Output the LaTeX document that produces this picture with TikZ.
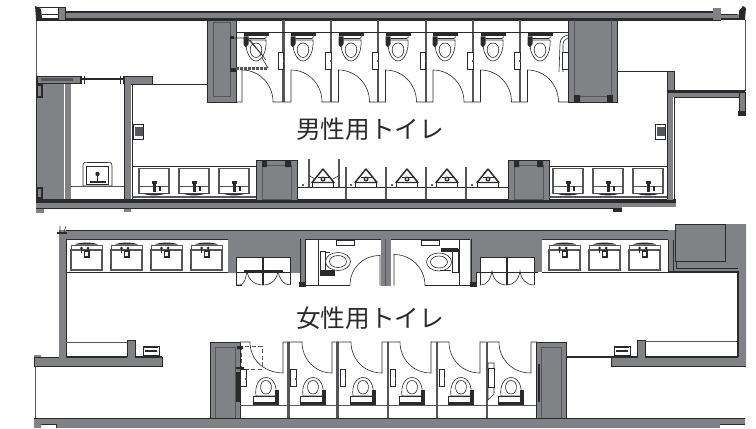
\documentclass[tikz,border=0pt]{standalone}
\usepackage{fontspec}
\newfontfamily\cjk{Noto Sans CJK JP}
\definecolor{wallgray}{HTML}{808285}
\definecolor{ink}{HTML}{2B2A2B}
\definecolor{softink}{HTML}{55565A}
\tikzset{
  wall/.style={fill=wallgray,draw=ink,line width=0.7pt},
  plainwall/.style={fill=wallgray,draw=none},
  fine/.style={draw=ink,line width=0.45pt},
  finer/.style={draw=softink,line width=0.35pt},
  heavy/.style={draw=ink,line width=1pt},
  divider/.style={draw=softink,line width=1.7pt},
  title/.style={font=\cjk\fontsize{18.5}{20}\selectfont,text=ink,inner sep=0pt,anchor=center},
  pics/wctop/.style={code={
    \draw[fine,fill=white] (-10,3) .. controls (-11,14) and (-6,24) .. (0,24) .. controls (6,24) and (11,14) .. (10,3) -- cycle;
    \draw[fine] (0,6) .. controls (-8.5,6) and (-7,20.5) .. (0,20.5) .. controls (7,20.5) and (8.5,6) .. (0,6) -- cycle;
    \fill[ink] (-12.5,-3.5) rectangle (12.5,-0.5);
    \fill[ink] (-12.5,-0.5) -- (-7.5,-0.5) -- (-7.5,7) -- (-10,10.5) -- (-12.5,8) -- cycle;
    \draw[fine] (-7.5,1.5) -- (9,1.5) -- (11,-0.5);
  }},
  pics/wcbottom/.style={code={
    \draw[fine,fill=white] (-10,8) .. controls (-11.5,-2) and (-7,-10.5) .. (0,-10.5) .. controls (7,-10.5) and (11.5,-2) .. (10,8) -- cycle;
    \draw[fine] (0,-7.5) .. controls (-7.5,-7.5) and (-7,6) .. (0,6) .. controls (7,6) and (7.5,-7.5) .. (0,-7.5) -- cycle;
    \draw[fine,fill=white] (-12.5,8) rectangle (9,14);
    \fill[ink] (-13,14) rectangle (13,17);
    \fill[ink] (8.5,2) rectangle (13,15);
  }},
  pics/basinfloor/.style={code={
    \draw[draw=softink,line width=0.8pt,fill=white] (0,0) rectangle (30,25);
    \draw[finer] (0,18) -- (30,18);
    \fill[ink] (14,12.5) rectangle (17,23);
    \fill[ink] (13,12) rectangle (18,15);
    \fill[ink] (19.5,17) rectangle (22,22.5);
    \fill[ink] (4,25) .. controls (8,27.5) and (22,27.5) .. (26,25) -- cycle;
  }},
  pics/basinwall/.style={code={
    \draw[finer] (0,-5) -- (31,-5);
    \draw[draw=softink,line width=0.8pt,fill=white] (0,0) rectangle (31,20);
    \draw[finer] (0,-5) -- (0,0) (31,-5) -- (31,0);
    \fill[ink] (4,-5.5) .. controls (8,-8) and (23,-8) .. (27,-5.5) -- cycle;
    \fill[ink] (10.5,-2) circle (1.5) (17,-2) circle (1.5);
    \draw[ink,line width=0.7pt] (10.5,-2) -- (10.5,3) (17,-2) -- (17,3);
    \draw[draw=ink,line width=0.8pt,fill=white] (13.5,1) rectangle (18,7);
  }},
  pics/urinal/.style={code={
    \draw[line width=1.1pt,draw=ink,fill=white,line join=round] (0,-12) -- (-11,1.5) -- (11,1.5) -- cycle;
    \draw[fine] (-5.5,-3.5) -- (5.5,-3.5);
    \fill[ink] (0,-2) circle (2.5);
    \fill[white] (0,-2) circle (1.1);
    \draw[fine] (-10.5,1.5) -- (-10.5,6) (10.5,1.5) -- (10.5,6);
  }},
  pics/holder/.style={code={
    \draw[fine,fill=white] (0,0) rectangle (5.5,17);
    \fill[softink] (4.5,8) rectangle (6,10);
  }},
  pics/dispenser/.style={code={
    \draw[fine,fill=white] (0,0) rectangle (10,15);
    \fill[softink] (1,2) rectangle (9,11);
  }},
  pics/drier/.style={code={
    \draw[fine,fill=white] (0,0) rectangle (16,11);
    \fill[ink] (1,0) rectangle (15,2);
    \fill[ink] (2,4) rectangle (14,6);
    \fill[ink] (0,9) rectangle (16,11);
  }}
}
\begin{document}
\begin{tikzpicture}[x=0.75pt,y=-0.75pt]
\useasboundingbox (0,0) rectangle (756,428);
% ===== upper plan: men =====
\draw[finer] (36,20) -- (36,76) (745,20) -- (745,91);
\path[plainwall] (65,12) rectangle (721,20);
\draw[heavy] (65,12) -- (713,12);
\fill[ink] (36,18.5) rectangle (721,21);
\path[wall] (58,7) -- (65,7) -- (65,20) -- (58,20) -- cycle;
\draw[fine] (36,7) -- (58,7) (42,14) -- (58,14);
\fill[ink] (35,6) -- (41,9) -- (42,18) -- (36,18) -- cycle;
\path[plainwall] (713,8) rectangle (721,20);
\path[plainwall] (721,14) rectangle (745,20);
\draw[fine] (721,14) -- (737,14);
\fill[ink] (721,18.5) rectangle (745,20.5);
\fill[ink] (743,6) -- (746,8) -- (745,19) -- (739,19) -- (739,11) -- cycle;
% left column
\path[plainwall] (37,83) rectangle (64,200);
\path[plainwall] (65,83) rectangle (71,200);
\draw[fine] (36,76) -- (36,212);
\path[wall] (37,76) rectangle (80,83);
\fill[softink] (41,78) rectangle (73,81);
\fill[ink] (36,84) rectangle (43,98);
\fill[wallgray] (38,86) rectangle (41,96);
\fill[ink] (36,187) rectangle (43,199);
\fill[wallgray] (38,189) rectangle (41,197);
\draw[ink,line width=1.2pt] (80,79) -- (124,79);
\draw[fine] (81,76) -- (81,84) (84,76) -- (84,84) (120,76) -- (120,84) (123,76) -- (123,84);
\path[wall] (124,76) rectangle (152,84);
\path[plainwall] (124,84) rectangle (131,212);
\draw[fine] (124,84) -- (124,199) (132,84) -- (132,199);
\draw[fine] (152,84) -- (207,84);
% small basin room
\draw[fine,fill=white] (83,166) .. controls (83,162) and (85,162.5) .. (88,162.5) -- (107,162.5) .. controls (110,162.5) and (112,162) .. (112,166) -- (112,186) -- (83,186) -- cycle;
\draw[fine] (86,166) rectangle (108,184);
\fill[ink] (97.5,174) circle (2.2);
\draw[ink,line width=0.9pt] (97.5,174) -- (97.5,182) (90,182) -- (106,182);
\draw[finer] (71,186) -- (124,186);
% bottom wall
\path[plainwall] (36,203) rectangle (621,208);
\path[plainwall] (621,200) rectangle (676,206.5);
\fill[ink] (36,198.5) rectangle (676,203);
\path[plainwall] (36,203) rectangle (44,213);
\draw[fine] (36,208) -- (621,208);
\path[plainwall] (613,206) rectangle (622,212);
\fill[ink] (613,208) rectangle (622,212);
% stall blocks
\path[wall] (207,20) rectangle (236,102);
\draw[finer] (213,22) rectangle (230,96);
\path[wall] (568,20) rectangle (617,102);
\draw[finer] (574,20) -- (574,96) -- (611,96) -- (611,20);
\fill[ink] (574,95) rectangle (580,102) (607,95) rectangle (613,102);
% dividers
\foreach \xx in {283.5,331,378,426,473,520}{
  \draw[divider] (\xx,20) -- (\xx,102);
}
\draw[fine] (236,32.5) -- (568,32.5);
% toilets
\foreach \xx in {256,303,351,398,445,493,540}{
  \pic at (\xx,37) {wctop};
}
\draw[fine] (230,38) -- (247,38) -- (263,56);
\draw[fine] (250,40) -- (266,60);
\draw[fine] (262,58) -- (268,68);
\draw[draw=softink,line width=2pt,densely dotted] (236,68.5) -- (268,68.5);
\fill[ink] (230,36) rectangle (234,39);
\fill[ink] (230,68) rectangle (236,72);
\draw[fine] (230,38) -- (230,72);
% grab bar in the last men's stall
\draw[fine] (559,72) -- (560,44) .. controls (560,38) and (564,36) .. (568,35) (563,72) -- (563,45) .. controls (563,41) and (565,39) .. (568,38);
\draw[fine,fill=white] (562,52) rectangle (568,69);
% paper holders
\foreach \xx in {278,325.5,372.5,420,467.5,514.5}{
  \pic at (\xx,52) {holder};
}
% doors
\draw[fine] (236,102) -- (242,102) -- (242,70) .. controls (259,70) and (273,84) .. (273,102) -- (283.5,102);
\foreach \aa/\bb/\cc in {283.5/291/331,331/338.5/378,378/385.5/426,426/433/473,473/480.5/520,520/527.5/568}{
  \draw[fine] (\aa,102) -- (\bb,102) -- (\bb,70) .. controls (\bb+17,70) and (\bb+31,84) .. (\bb+31,102) -- (\cc,102);
}
% urinal zone
\path[wall] (256,160) rectangle (297,200);
\draw[finer] (262,165) rectangle (291,199);
\fill[ink] (262,161) rectangle (267,167) (285,161) rectangle (291,167);
\path[wall] (508,160) rectangle (549,200);
\draw[finer] (514,165) rectangle (543,199);
\fill[ink] (514,161) rectangle (519,167) (537,161) rectangle (543,167);
\draw[ink,line width=0.9pt] (297,187.5) -- (508,187.5);
\foreach \xx in {346,386,426,466}{
  \draw[divider] (\xx,167) -- (\xx,199);
}
\draw[divider] (309,159) -- (309,187);
\draw[divider] (339,159) -- (339,187);
\foreach \xx in {323,366,407,447,488}{
  \pic at (\xx,181) {urinal};
}
\draw[fine] (309,175.5) -- (315,179) (339,175.5) -- (333,179);
\foreach \xx in {303,351,392,432,472}{
  \fill[ink] (\xx,185) circle (1.2);
}
% men's basins
\draw[fine] (132,166) -- (256,166) (549,166) -- (667,166);
\foreach \xx in {139,179,219,553,593,633}{
  \pic at (\xx,168.5) {basinfloor};
}
\draw[draw=softink,line width=1pt] (132,197) -- (256,197);
\draw[draw=softink,line width=1pt] (549,197) -- (667,197);
% right side of men's
\draw[fine] (617,71) -- (674,71);
\path[wall] (667,71) rectangle (674,92);
\path[plainwall] (667,91) rectangle (745,97);
\path[plainwall] (667,97) rectangle (673,200);
\draw[fine] (667,92) -- (667,199) (674,97) -- (674,199);
\fill[ink] (667,90) rectangle (745,92.5);
\draw[fine] (674,97) -- (739,97);
\path[wall] (739,92) rectangle (745,115);
\fill[ink] (738,111) rectangle (746,115.5);
\pic at (133.5,124.5) {dispenser};
\pic at (655.5,124.5) {dispenser};
% ===== lower plan: women =====
\path[plainwall] (59,230) rectangle (676,239);
\draw[fine] (59,230) -- (676,230);
\draw[fine] (59,239.5) -- (676,239.5);
\path[plainwall] (59,230) rectangle (66,358);
\draw[fine] (66,239) -- (66,357);
\fill[ink] (57,232) rectangle (67,234);
\draw[fine] (60,226) -- (60,232) (66,226) -- (64,232);
\draw[fine] (66,272) -- (228,272);
\foreach \xx in {71,111,151,191}{
  \pic at (\xx,250) {basinwall};
}
% locker block, left
\path[plainwall] (228,239) rectangle (300,257);
\path[plainwall] (228,257) rectangle (236,273);
\path[plainwall] (290,257) rectangle (300,273);
\path[plainwall] (300,239) rectangle (305,286);
\draw[fine] (236,257) rectangle (290,272);
\draw[ink,line width=0.9pt] (263,257) -- (263,285);
\draw[ink,line width=1.6pt] (244,271) -- (283,271);
\draw[fine] (236,272) -- (236,285) (290,272) -- (290,285) (236,285) -- (242,285);
\draw[fine] (236,285) -- (240,285) .. controls (244,285) and (246,278) .. (247,271) .. controls (248,279) and (254,285) .. (263,285) .. controls (272,285) and (277,279) .. (278,271) .. controls (279,278) and (283,285) .. (290,285);
\draw[fine] (300,239) -- (300,286) (305,239) -- (305,286);
\fill[ink] (299,282) rectangle (306,287);
% centre rooms
\draw[fine] (318,240) -- (318,285);
\draw[fine] (305,285.5) -- (350,285.5);
\draw[fine,fill=white] (336,240) rectangle (354,245);
\draw[fine,fill=white] (320,251) rectangle (325,275);
\fill[ink] (320,270) rectangle (335,276);
\draw[fine] (325,252) -- (330,252);
\draw[fine,fill=white] (338,261.5) ellipse (12.5 and 9);
\draw[fine] (338,261.5) ellipse (8.5 and 6);
\draw[fine] (350,285.5) .. controls (350,268) and (363,255.5) .. (380,255.5) -- (380,285.5);
\path[plainwall] (381,239) rectangle (390.5,285.5);
\draw[finer] (385.5,239) -- (385.5,285.5);
\draw[fine] (394,285.5) -- (394,254.5) .. controls (411,254.5) and (425,268) .. (425,285.5) -- (476,285.5);
\draw[fine,fill=white] (421,240) rectangle (439,245);
\draw[fine] (459,240) -- (459,285);
\draw[fine,fill=white] (439,262) ellipse (12.5 and 9);
\draw[fine] (439,262) ellipse (8.5 and 6);
\draw[fine,fill=white] (452,249) rectangle (458,272);
\fill[ink] (441,248) rectangle (458,252);
\draw[fine] (451,270) -- (440,270);
\path[plainwall] (470,239) rectangle (476,286);
\draw[fine] (471,239) -- (471,286) (476,239) -- (476,286);
\fill[ink] (470,282) rectangle (477,287);
% locker block, right
\path[plainwall] (476,239) rectangle (538,257);
\path[plainwall] (476,257) rectangle (480,273);
\path[plainwall] (534,257) rectangle (538,273);
\path[plainwall] (538,239) rectangle (542,272);
\draw[fine] (480,257) rectangle (534,272);
\draw[ink,line width=0.9pt] (507,257) -- (507,285);
\draw[fine] (476,272) -- (538,272);
\draw[fine] (480,272) -- (480,285) (534,272) -- (534,285);
\draw[fine] (480,285) .. controls (488,285) and (491,278) .. (492,271) .. controls (493,279) and (498,285) .. (507,285) .. controls (514,285) and (519,279) .. (520,271) .. controls (521,279) and (526,285) .. (534,285);
\draw[fine] (542,272) -- (668,272);
\foreach \xx in {549,589,629}{
  \pic at (\xx,250) {basinwall};
}
% right mass
\path[plainwall] (676,224) -- (746,224) -- (746,366) -- (738,366) -- (738,272) -- (668,272) -- (668,230) -- (676,230) -- cycle;
\draw[fine] (675,224) rectangle (725,261);
\draw[fine] (676,261) -- (676,268) -- (738,268);
\draw[ink,line width=1.1pt] (668,272) -- (738,272) -- (738,357);
\draw[fine] (668,240) -- (668,272) (673,240) -- (673,272);
% right lobby
\path[plainwall] (611,358) rectangle (746,366);
\path[plainwall] (637,340) rectangle (645,358);
\draw[fine] (637,358) -- (637,340) -- (645,340) -- (645,357);
\draw[finer] (645,341) -- (737,341);
\draw[ink,line width=0.9pt] (566,357) -- (637,357) (645,357) -- (738,357);
\draw[fine] (611,357) -- (611,366) -- (746,366);
\pic at (614,346) {drier};
% left lobby
\path[plainwall] (34,357) rectangle (162,366);
\path[plainwall] (127,340) rectangle (135,358);
\path[plainwall] (34,355) rectangle (41,358);
\draw[ink,line width=0.9pt] (66,357) -- (127,357) (135,357) -- (162,357);
\draw[fine] (127,357) -- (127,340) -- (135,340) -- (135,357);
\draw[finer] (66,342) -- (127,342);
\draw[fine] (34,357) -- (59,357) (34,357) -- (34,366) -- (162,366) -- (162,357);
\pic at (143,346) {drier};
\draw[finer] (35,366) -- (35,418);
% bottom wall
\path[plainwall] (34,418) rectangle (745,428);
\draw[fine] (34,418) -- (745,418);
\fill[white] (41,424) rectangle (56,428);
\fill[white] (720,424) rectangle (745,428);
\draw[fine] (41,424) -- (56,424) -- (56,428) (720,424) -- (745,424);
% stall blocks
\path[wall] (210,342) rectangle (240,418);
\draw[finer] (215,347) -- (235,347) (215,347) -- (215,418) (235,347) -- (235,418);
\path[wall] (536,342) rectangle (566,418);
\draw[finer] (541,347) -- (561,347) (541,347) -- (541,418) (561,347) -- (561,418);
\fill[ink] (538,364) rectangle (540,402);
\fill[ink] (236,372) rectangle (240,402);
% dividers
\foreach \xx in {288.5,337.5,388,437,487}{
  \draw[divider] (\xx,342) -- (\xx,418);
}
\draw[finer] (240,405.5) -- (536,405.5);
% doors
\draw[fine] (240,342) -- (250,342) .. controls (250,359) and (263,372.5) .. (283,373) -- (283,342) -- (288,342);
\foreach \aa/\bb/\cc in {288/302/332,337/351/382,388/400/431,437/449/480,487/499/531}{
  \draw[fine] (\aa,342) -- (\bb,342) .. controls (\bb,359) and (\bb+13,373) .. (\cc,373) -- (\cc,342) -- (\cc+6,342);
}
\draw[draw=softink,line width=0.5pt,densely dashed] (241,346) rectangle (262,369);
\fill[ink] (237,346) rectangle (243,349) (236,367) rectangle (244,369);
% toilets
\foreach \xx in {266,313,363,412,461,511}{
  \pic at (\xx,388) {wcbottom};
}
% paper holders
\foreach \xx in {240.5,290.5,340,390,439}{
  \pic at (\xx,369.5) {holder};
}
% grab bar
\draw[fine,fill=white] (488,368) rectangle (494,387);
\draw[fine] (488,363) -- (494,363) -- (494,368) (488,363) -- (488,368) (488,387) -- (488,400) -- (494,394) -- (494,387);
% titles
\node[title] (men) at (370,129) {男性用トイレ};
\node[title] (women) at (370,318) {女性用トイレ};
\end{tikzpicture}
\end{document}
